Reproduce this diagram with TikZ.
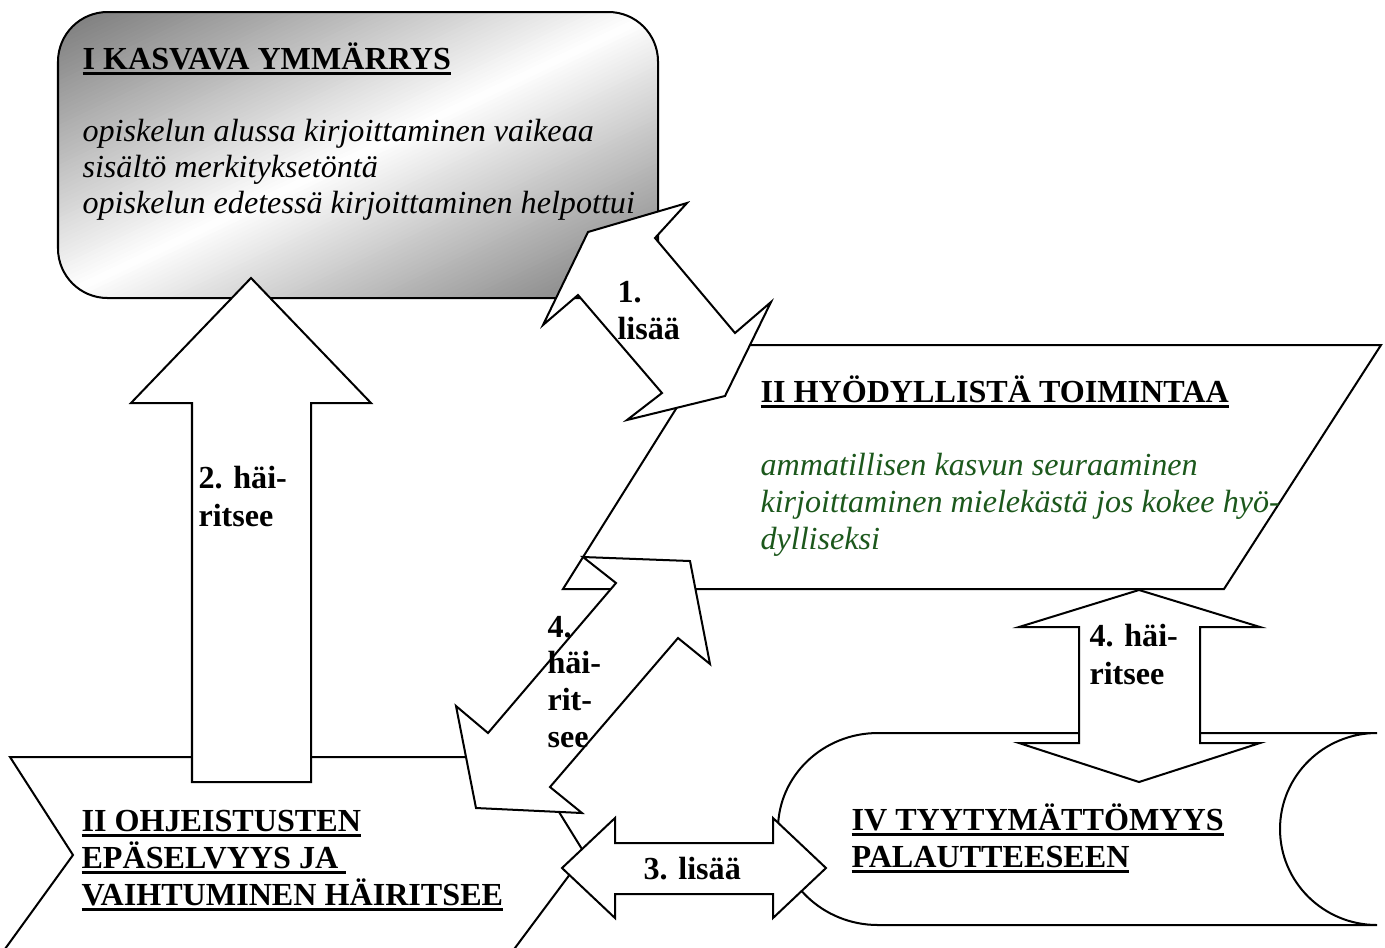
\documentclass[tikz,border=0pt]{standalone}
\usepackage{fontspec}
\setmainfont{Liberation Serif}

\definecolor{boxgray}{gray}{0.47}
\definecolor{textgreen}{RGB}{28,88,28}

% thick underline a little below the baseline
\newcommand\ulbar[1]{\setbox0\hbox{#1}\rlap{\rule[-2.2pt]{\wd0}{1.1pt}}\box0}

\tikzset{
  frame/.style={draw=black, fill=white, line width=0.75pt, line join=miter},
  blockarrow/.style={draw=black, fill=white, line width=0.75pt, line join=miter},
  head/.style={inner sep=0pt, anchor=base west, font=\fontsize{12}{13.8}\selectfont\bfseries},
  body/.style={inner sep=0pt, anchor=base west, font=\fontsize{12}{13.8}\selectfont\itshape},
  lbl/.style={inner sep=0pt, anchor=base west, font=\fontsize{12}{13.8}\selectfont\bfseries},
}

\begin{document}
\begin{tikzpicture}[x=0.3735pt, y=-0.3735pt]
\useasboundingbox (0,0) rectangle (1385,947);
\fill[white] (0,0) rectangle (1385,947);
\clip (0,0) rectangle (1385,947);

% I: rounded box, grey at two corners and white along the other diagonal
\begin{scope}
  \clip[rounded corners=18.5pt] (58,12) rectangle (658,298);
  \foreach \t in {-272,-268,...,268} {
    \pgfmathsetmacro\p{min(100,abs(\t+2.5)/258*100)}
    \fill[boxgray!\p!white]
      ({358+\t*0.4303-420*0.9027},{155+\t*0.9027+420*0.4303}) --
      ({358+\t*0.4303+420*0.9027},{155+\t*0.9027-420*0.4303}) --
      ({358+(\t+5)*0.4303+420*0.9027},{155+(\t+5)*0.9027-420*0.4303}) --
      ({358+(\t+5)*0.4303-420*0.9027},{155+(\t+5)*0.9027+420*0.4303}) -- cycle;
  }
\end{scope}
\draw[line width=0.75pt, rounded corners=18.5pt] (58,12) rectangle (658,298);

% II: parallelogram
\draw[frame] (716,345) -- (1381,345) -- (1224,589) -- (563,589) -- cycle;

% II (lower left): chevron, running off the bottom edge
\draw[frame] (10,757) -- (525,757) -- (585,854) -- (506,960) -- (-3,960) -- (73,855) -- cycle;

% IV: stored-data shape
\draw[frame] (878,733) -- (1377,733)
  arc[start angle=270, end angle=90, x radius=97, y radius=96]
  -- (878,925)
  arc[start angle=90, end angle=270, x radius=100, y radius=96]
  -- cycle;

% block arrows
\draw[blockarrow] (588,232) -- (687,203) -- (655,238) -- (735,333) -- (771,302)
  -- (725,396) -- (627,420) -- (662,393) -- (578,295) -- (543,325) -- cycle;

\draw[blockarrow] (251,278) -- (371,403) -- (311,403) -- (311,782) -- (192,782)
  -- (192,403) -- (131,403) -- cycle;

\draw[blockarrow] (690,561) -- (710,664) -- (678,638) -- (550,787) -- (582,813)
  -- (476,808) -- (456,706) -- (488,733) -- (616,583) -- (583,557) -- cycle;

\draw[blockarrow] (562,868) -- (615,818) -- (615,843) -- (773,843) -- (773,818)
  -- (826,868) -- (773,918) -- (773,894) -- (615,894) -- (615,918) -- cycle;

\draw[blockarrow] (1139,590) -- (1260,627) -- (1200,627) -- (1200,743) -- (1260,743)
  -- (1139,782) -- (1019,743) -- (1079,743) -- (1079,627) -- (1019,627) -- cycle;

% texts of box I
\node[head] (kT) at (82,69) {\ulbar{I KASVAVA YMMÄRRYS}};
\node[body] (k1) at (82,141) {opiskelun alussa kirjoittaminen vaikeaa};
\node[body] (k2) at (82,177) {sisältö merkityksetöntä};
\node[body] (k3) at (82,213) {opiskelun edetessä kirjoittaminen helpottui};

% texts of the parallelogram
\node[head] (hT) at (760,402) {\ulbar{II HYÖDYLLISTÄ TOIMINTAA}};
\node[body, text=textgreen] (h1) at (760,475) {ammatillisen kasvun seuraaminen};
\node[body, text=textgreen] (h2) at (760,512) {kirjoittaminen mielekästä jos kokee hyö-};
\node[body, text=textgreen] (h3) at (760,549) {dylliseksi};

% texts of the chevron
\node[head] (o1) at (81,831) {\ulbar{II OHJEISTUSTEN}};
\node[head] (o2) at (81,868) {\ulbar{EPÄSELVYYS JA\ }};
\node[head] (o3) at (81,905) {\ulbar{VAIHTUMINEN HÄIRITSEE}};

% texts of the stored-data shape
\node[head] (t1) at (851,830) {\ulbar{IV TYYTYMÄTTÖMYYS}};
\node[head] (t2) at (851,867) {\ulbar{PALAUTTEESEEN}};

% arrow labels
\node[lbl] (a1a) at (617,302) {1.};
\node[lbl] (a1b) at (617,339) {lisää};
\node[lbl] (a2a) at (198,488) {2. häi-};
\node[lbl] (a2b) at (198,526) {ritsee};
\node[lbl] (a4a) at (547,637) {4.};
\node[lbl] (a4b) at (547,673) {häi-};
\node[lbl] (a4c) at (547,710) {rit-};
\node[lbl] (a4d) at (547,747) {see};
\node[lbl] (a3) at (643,879) {3. lisää};
\node[lbl] (a5a) at (1089,646) {4. häi-};
\node[lbl] (a5b) at (1089,684) {ritsee};
\end{tikzpicture}
\end{document}
